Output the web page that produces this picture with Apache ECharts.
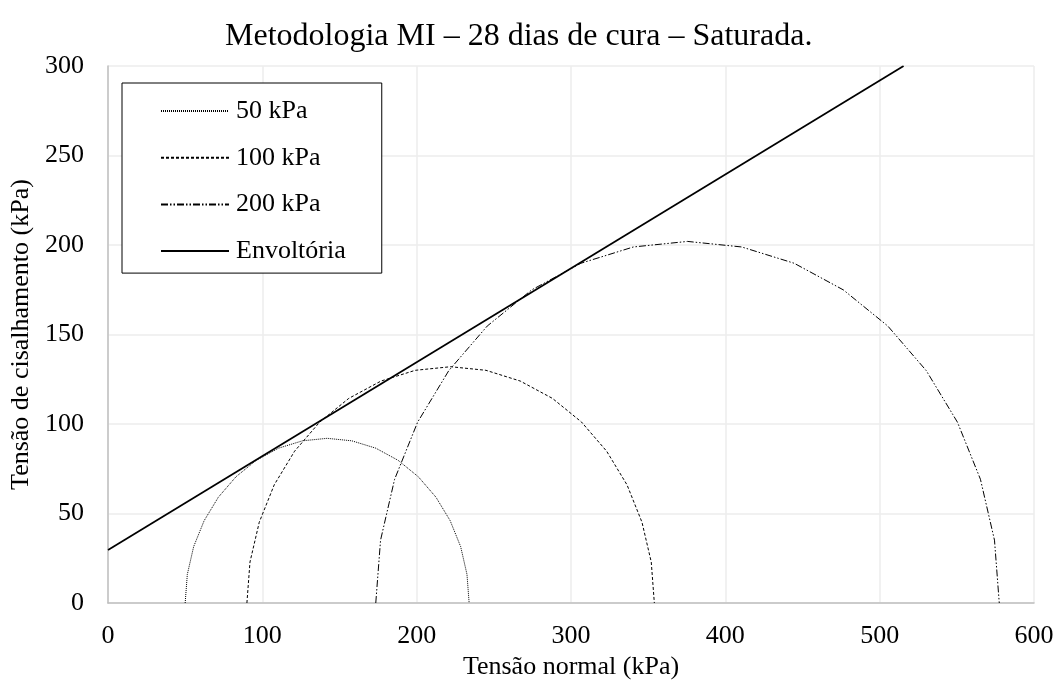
<!DOCTYPE html>
<html>
<head>
<meta charset="utf-8">
<script src="https://cdn.jsdelivr.net/npm/echarts@6/dist/echarts.min.js"></script>
<style>
html,body{margin:0;padding:0;background:#fff;}
#chart{width:1059px;height:688px;}
</style>
</head>
<body>
<div id="chart"></div>
<script>
// Data (normal stress, shear stress) in kPa
const titleText = 'Metodologia MI – 28 dias de cura – Saturada.';
const xTicks = [0, 100, 200, 300, 400, 500, 600];
const yTicks = [0, 50, 100, 150, 200, 250, 300];

const circle50 = [
  [50, 0], [51.4, 16.0], [55.5, 31.5], [62.3, 46], [71.5, 59.1], [82.9, 70.5],
  [96, 79.7], [110.5, 86.5], [126, 90.6], [142, 92], [158, 90.6], [173.5, 86.5],
  [188, 79.7], [201.1, 70.5], [212.5, 59.1], [221.7, 46], [228.5, 31.5], [232.6, 16.0], [234, 0]
];
const circle100 = [
  [90, 0], [92, 22.9], [98, 45.1], [107.7, 66], [120.9, 84.8], [137.2, 101.1],
  [156, 114.3], [176.9, 124.0], [199.1, 130.0], [222, 132], [244.9, 130.0], [267.1, 124.0],
  [288, 114.3], [306.8, 101.1], [323.1, 84.8], [336.3, 66], [346, 45.1], [352, 22.9], [354, 0]
];
const circle200 = [
  [173.5, 0], [176.6, 35.1], [185.7, 69.1], [200.6, 101], [220.8, 129.8], [245.7, 154.7],
  [274.5, 174.9], [306.4, 189.8], [340.4, 198.9], [375.5, 202], [410.6, 198.9], [444.6, 189.8],
  [476.5, 174.9], [505.3, 154.7], [530.2, 129.8], [550.4, 101], [565.3, 69.1], [574.4, 35.1], [577.5, 0]
];
const envelope = [[0, 29.6], [515.5, 300]];

const seriesNames = ['50 kPa', '100 kPa', '200 kPa', 'Envoltória'];

const FONT = "'Liberation Serif', 'Times New Roman', serif";
const chart = echarts.init(document.getElementById('chart'), null, {renderer: 'canvas'});

chart.setOption({
  animation: false,
  backgroundColor: '#ffffff',
  title: {
    text: titleText,
    left: 220,
    top: 16,
    textStyle: {fontFamily: FONT, fontSize: 32, fontWeight: 'normal', color: '#000'}
  },
  legend: {
    orient: 'vertical',
    left: 122,
    top: 83,
    padding: [15, 36, 9, 38],
    itemWidth: 68,
    itemHeight: 26,
    itemGap: 20.7,
    borderColor: '#000',
    borderWidth: 1,
    backgroundColor: '#fff',
    data: seriesNames,
    itemStyle: {opacity: 0},
    lineStyle: {opacity: 1},
    textStyle: {fontFamily: FONT, fontSize: 26, color: '#000', padding: [0, 0, 0, 2]}
  },
  grid: {left: 108, right: 25, top: 66, bottom: 85, containLabel: false},
  xAxis: {
    type: 'value',
    min: xTicks[0],
    max: xTicks[xTicks.length - 1],
    interval: 100,
    name: 'Tensão normal (kPa)',
    nameLocation: 'middle',
    nameGap: 46,
    nameTextStyle: {fontFamily: FONT, fontSize: 26, color: '#000'},
    axisLine: {show: true, lineStyle: {color: '#bfbfbf', width: 1.5}},
    axisTick: {show: false},
    axisLabel: {fontFamily: FONT, fontSize: 26, color: '#000', margin: 20},
    splitLine: {show: true, lineStyle: {color: '#ececec', width: 1.5}}
  },
  yAxis: {
    type: 'value',
    min: yTicks[0],
    max: yTicks[yTicks.length - 1],
    interval: 50,
    name: 'Tensão de cisalhamento (kPa)',
    nameLocation: 'middle',
    nameRotate: 90,
    nameGap: 67,
    nameTextStyle: {fontFamily: FONT, fontSize: 26, color: '#000'},
    axisLine: {show: true, lineStyle: {color: '#bfbfbf', width: 1.5}},
    axisTick: {show: false},
    axisLabel: {fontFamily: FONT, fontSize: 26, color: '#000', margin: 24},
    splitLine: {show: true, lineStyle: {color: '#ececec', width: 1.5}}
  },
  series: [
    {name: seriesNames[0], type: 'line', data: circle50, symbol: 'none', showSymbol: false,
     lineStyle: {color: '#000', width: 1, type: [1, 1]}, itemStyle: {color: '#000'}},
    {name: seriesNames[1], type: 'line', data: circle100, symbol: 'none', showSymbol: false,
     lineStyle: {color: '#000', width: 1, type: [3, 2]}, itemStyle: {color: '#000'}},
    {name: seriesNames[2], type: 'line', data: circle200, symbol: 'none', showSymbol: false,
     lineStyle: {color: '#000', width: 1, type: [7, 2, 1.5, 2, 1.5, 2]}, itemStyle: {color: '#000'}},
    {name: seriesNames[3], type: 'line', data: envelope, symbol: 'none', showSymbol: false,
     lineStyle: {color: '#000', width: 1.75, type: 'solid'}, itemStyle: {color: '#000'}}
  ]
});
</script>
</body>
</html>
